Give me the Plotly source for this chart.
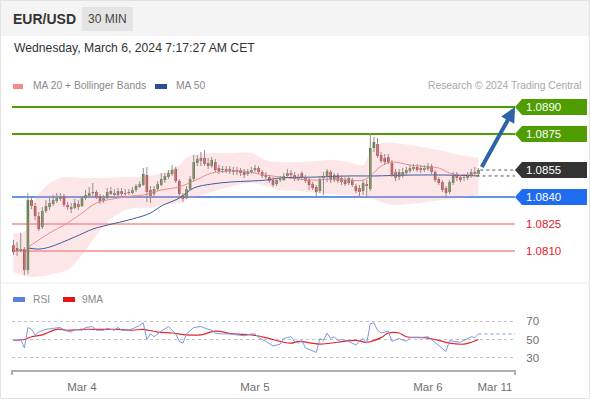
import plotly.graph_objects as go

W, H = 590, 400
FONT = "Liberation Sans, Arial, sans-serif"

# ---------------- data (EUR/USD, 30 min candles) ----------------
open_ = [1.08133, 1.08117, 1.08100, 1.08111, 1.07994, 1.08383, 1.08350, 1.08294, 1.08233, 1.08322,
         1.08344, 1.08361, 1.08378, 1.08389, 1.08406, 1.08356, 1.08344, 1.08339, 1.08361, 1.08350,
         1.08394, 1.08406, 1.08422, 1.08428, 1.08406, 1.08378, 1.08394, 1.08433, 1.08422, 1.08411,
         1.08433, 1.08422, 1.08428, 1.08422, 1.08439, 1.08456, 1.08467, 1.08522, 1.08439, 1.08417,
         1.08444, 1.08467, 1.08494, 1.08511, 1.08528, 1.08556, 1.08489, 1.08411, 1.08394, 1.08444,
         1.08500, 1.08589, 1.08600, 1.08617, 1.08589, 1.08572, 1.08594, 1.08561, 1.08550, 1.08556,
         1.08544, 1.08550, 1.08539, 1.08550, 1.08539, 1.08528, 1.08539, 1.08550, 1.08561, 1.08539,
         1.08522, 1.08511, 1.08494, 1.08472, 1.08494, 1.08494, 1.08517, 1.08533, 1.08522, 1.08500,
         1.08533, 1.08506, 1.08494, 1.08472, 1.08456, 1.08433, 1.08506, 1.08517, 1.08539, 1.08494,
         1.08522, 1.08506, 1.08494, 1.08478, 1.08494, 1.08461, 1.08450, 1.08433, 1.08472, 1.08444,
         1.08672, 1.08694, 1.08633, 1.08617, 1.08622, 1.08589, 1.08539, 1.08511, 1.08517, 1.08533,
         1.08544, 1.08556, 1.08567, 1.08561, 1.08550, 1.08556, 1.08572, 1.08539, 1.08500, 1.08483,
         1.08450, 1.08428, 1.08478, 1.08528, 1.08511, 1.08506, 1.08506, 1.08517, 1.08539, 1.08528]
high = [1.08161, 1.08150, 1.08200, 1.08122, 1.08422, 1.08406, 1.08367, 1.08317, 1.08344, 1.08383,
        1.08394, 1.08411, 1.08422, 1.08422, 1.08417, 1.08372, 1.08367, 1.08389, 1.08383, 1.08406,
        1.08439, 1.08456, 1.08478, 1.08439, 1.08417, 1.08411, 1.08450, 1.08456, 1.08444, 1.08450,
        1.08450, 1.08444, 1.08444, 1.08456, 1.08472, 1.08489, 1.08561, 1.08567, 1.08461, 1.08461,
        1.08489, 1.08533, 1.08533, 1.08550, 1.08578, 1.08567, 1.08500, 1.08422, 1.08461, 1.08517,
        1.08633, 1.08633, 1.08650, 1.08661, 1.08617, 1.08622, 1.08611, 1.08578, 1.08572, 1.08572,
        1.08572, 1.08567, 1.08567, 1.08561, 1.08556, 1.08556, 1.08567, 1.08578, 1.08572, 1.08550,
        1.08539, 1.08522, 1.08511, 1.08506, 1.08517, 1.08533, 1.08556, 1.08550, 1.08539, 1.08528,
        1.08544, 1.08522, 1.08506, 1.08483, 1.08467, 1.08517, 1.08539, 1.08556, 1.08550, 1.08533,
        1.08533, 1.08522, 1.08511, 1.08517, 1.08506, 1.08472, 1.08467, 1.08494, 1.08494, 1.08756,
        1.08733, 1.08728, 1.08650, 1.08639, 1.08639, 1.08606, 1.08556, 1.08556, 1.08561, 1.08567,
        1.08578, 1.08583, 1.08583, 1.08578, 1.08578, 1.08589, 1.08583, 1.08550, 1.08511, 1.08494,
        1.08461, 1.08494, 1.08539, 1.08539, 1.08522, 1.08528, 1.08539, 1.08556, 1.08567, 1.08561]
low = [1.08078, 1.08072, 1.08094, 1.07967, 1.07972, 1.08333, 1.08272, 1.08211, 1.08222, 1.08311,
       1.08328, 1.08350, 1.08367, 1.08378, 1.08344, 1.08328, 1.08311, 1.08333, 1.08328, 1.08344,
       1.08383, 1.08394, 1.08406, 1.08389, 1.08361, 1.08367, 1.08389, 1.08411, 1.08406, 1.08406,
       1.08406, 1.08406, 1.08411, 1.08417, 1.08428, 1.08450, 1.08461, 1.08372, 1.08367, 1.08406,
       1.08433, 1.08461, 1.08478, 1.08500, 1.08517, 1.08478, 1.08406, 1.08372, 1.08389, 1.08433,
       1.08489, 1.08572, 1.08572, 1.08572, 1.08556, 1.08561, 1.08539, 1.08528, 1.08533, 1.08533,
       1.08528, 1.08522, 1.08522, 1.08517, 1.08506, 1.08517, 1.08528, 1.08539, 1.08528, 1.08506,
       1.08500, 1.08478, 1.08456, 1.08461, 1.08483, 1.08489, 1.08506, 1.08511, 1.08489, 1.08489,
       1.08494, 1.08478, 1.08439, 1.08439, 1.08400, 1.08422, 1.08411, 1.08483, 1.08478, 1.08483,
       1.08478, 1.08467, 1.08461, 1.08467, 1.08456, 1.08422, 1.08400, 1.08411, 1.08394, 1.08433,
       1.08650, 1.08617, 1.08589, 1.08578, 1.08583, 1.08511, 1.08489, 1.08494, 1.08506, 1.08517,
       1.08533, 1.08544, 1.08539, 1.08533, 1.08539, 1.08544, 1.08528, 1.08483, 1.08467, 1.08428,
       1.08400, 1.08417, 1.08467, 1.08489, 1.08483, 1.08489, 1.08494, 1.08506, 1.08517, 1.08517]
close = [1.08094, 1.08100, 1.08111, 1.07994, 1.08383, 1.08350, 1.08294, 1.08222, 1.08322, 1.08350,
         1.08367, 1.08383, 1.08394, 1.08400, 1.08356, 1.08344, 1.08333, 1.08367, 1.08344, 1.08394,
         1.08411, 1.08422, 1.08428, 1.08400, 1.08378, 1.08394, 1.08428, 1.08417, 1.08411, 1.08433,
         1.08417, 1.08417, 1.08422, 1.08439, 1.08461, 1.08472, 1.08528, 1.08428, 1.08406, 1.08444,
         1.08472, 1.08500, 1.08517, 1.08533, 1.08550, 1.08489, 1.08417, 1.08389, 1.08444, 1.08500,
         1.08594, 1.08611, 1.08617, 1.08583, 1.08572, 1.08606, 1.08550, 1.08544, 1.08556, 1.08544,
         1.08556, 1.08539, 1.08550, 1.08533, 1.08522, 1.08539, 1.08550, 1.08561, 1.08539, 1.08517,
         1.08511, 1.08489, 1.08467, 1.08494, 1.08500, 1.08517, 1.08533, 1.08522, 1.08500, 1.08511,
         1.08506, 1.08489, 1.08467, 1.08450, 1.08428, 1.08500, 1.08517, 1.08544, 1.08494, 1.08522,
         1.08489, 1.08483, 1.08472, 1.08506, 1.08467, 1.08433, 1.08428, 1.08478, 1.08461, 1.08672,
         1.08706, 1.08628, 1.08600, 1.08594, 1.08594, 1.08522, 1.08506, 1.08539, 1.08539, 1.08550,
         1.08561, 1.08567, 1.08550, 1.08550, 1.08561, 1.08572, 1.08539, 1.08494, 1.08478, 1.08439,
         1.08422, 1.08483, 1.08522, 1.08506, 1.08494, 1.08511, 1.08522, 1.08539, 1.08528, 1.08550]

ma20_idx = [4, 7, 10, 15, 19, 23, 29, 33, 36, 41, 46, 50, 55, 60, 64, 67, 70, 74, 79, 84, 88, 93, 97,
            99, 102, 105, 110, 115, 118, 121, 124, 127, 129]
ma20 = [1.08122, 1.08161, 1.08200, 1.08256, 1.08311, 1.08367, 1.08394, 1.08406, 1.08411, 1.08439,
        1.08456, 1.08489, 1.08533, 1.08544, 1.08544, 1.08533, 1.08522, 1.08511, 1.08500, 1.08494,
        1.08500, 1.08494, 1.08494, 1.08517, 1.08572, 1.08594, 1.08578, 1.08567, 1.08561, 1.08533,
        1.08522, 1.08528, 1.08533]
ma50_idx = [4, 7, 10, 17, 22, 26, 33, 38, 41, 46, 50, 55, 60, 66, 70, 74, 84, 93, 100, 110, 120, 129]
ma50 = [1.08117, 1.08111, 1.08122, 1.08178, 1.08222, 1.08244, 1.08278, 1.08311, 1.08350, 1.08394,
        1.08450, 1.08472, 1.08483, 1.08489, 1.08494, 1.08506, 1.08511, 1.08517, 1.08517, 1.08522,
        1.08522, 1.08517]
bb_idx = [0, 3, 5, 8, 11, 15, 19, 22, 26, 30, 33, 38, 41, 46, 48, 50, 55, 60, 66, 70, 74, 79, 84,
          88, 93, 97, 99, 102, 105, 110, 115, 119, 124, 129]
bb_upper = [1.08200, 1.08206, 1.08356, 1.08439, 1.08489, 1.08511, 1.08506, 1.08506, 1.08506, 1.08511,
            1.08511, 1.08517, 1.08533, 1.08578, 1.08617, 1.08633, 1.08644, 1.08644, 1.08644, 1.08606,
            1.08594, 1.08594, 1.08600, 1.08606, 1.08594, 1.08578, 1.08650, 1.08700, 1.08700, 1.08689,
            1.08672, 1.08656, 1.08633, 1.08617]
bb_lower = [1.07983, 1.07961, 1.07956, 1.07961, 1.07972, 1.07994, 1.08078, 1.08161, 1.08261, 1.08317,
            1.08339, 1.08339, 1.08356, 1.08367, 1.08383, 1.08394, 1.08428, 1.08456, 1.08478, 1.08461,
            1.08439, 1.08433, 1.08422, 1.08417, 1.08411, 1.08400, 1.08394, 1.08372, 1.08356, 1.08361,
            1.08372, 1.08383, 1.08394, 1.08411]

rsi_idx = [0, 2, 3, 4, 5, 6, 7, 9, 11, 13, 14, 16, 17, 19, 20, 22, 23, 25, 26, 28, 29, 30, 32, 34,
           35, 36, 37, 38, 39, 41, 42, 43, 45, 46, 47, 48, 50, 52, 54, 55, 56, 58, 60, 62, 64, 66,
           67, 68, 70, 72, 74, 75, 77, 78, 79, 80, 81, 84, 85, 86, 87, 88, 89, 90, 91, 93, 95, 96,
           97, 98, 99, 100, 101, 102, 104, 105, 107, 109, 110, 112, 113, 115, 116, 117, 118, 120,
           121, 122, 124, 125, 127, 128, 129]
rsi = [49, 50, 41, 63, 61, 55, 58, 61, 62, 63, 60, 58, 61, 60, 63, 64, 60, 60, 62, 60, 63, 60, 60, 63,
       65, 68, 50, 56, 53, 59, 62, 64, 56, 48, 46, 56, 63, 64, 61, 60, 57, 56, 56, 55, 54, 56,
       56, 52, 48, 43, 45, 51, 53, 48, 46, 49, 41, 36, 51, 49, 57, 51, 53, 49, 50, 48, 44, 48,
       51, 46, 67, 68, 60, 57, 59, 48, 51, 48, 52, 52, 52, 53, 50, 46, 44, 37,
       49, 48, 47, 49, 53, 52, 56]
rsi_ma_idx = [0, 3, 5, 8, 12, 15, 19, 24, 29, 33, 36, 40, 44, 48, 52, 56, 61, 66, 70, 74, 77, 79, 85,
              90, 95, 98, 102, 104, 107, 109, 114, 118, 121, 125, 127, 129]
rsi_ma = [49, 50, 53, 55, 61, 60, 61, 61, 61, 60, 61, 58, 57, 55, 55, 59, 56, 55, 52, 48, 46, 48, 45,
          47, 49, 47, 52, 57, 57, 53, 52, 49, 46, 45, 47, 50]

tick_pos = [19, 67, 115, 133.6]
tick_text = ["Mar 4", "Mar 5", "Mar 6", "Mar 11"]
rsi_ticks = [30, 50, 70]

target_levels = [1.0890, 1.0875]
current_level = 1.0855
support_levels = [1.0840]
lower_levels = [1.0825, 1.0810]

# ---------------- geometry helpers (layout only) ----------------
def px(x):
    return x / W

def py(y):
    return 1 - y / H

XMIN, XMAX = -0.42, 139.15
PRICE_RANGE = [1.07928, 1.08950]
RSI_RANGE = [17.0, 87.3]

GREEN = "#4f9d00"
BLUE_LVL = "#1f6cf0"
RED_TXT = "#e3202a"

n = len(close)
idx = list(range(n))

fig = go.Figure()

# Bollinger band
fig.add_trace(go.Scatter(x=bb_idx, y=bb_lower, mode="lines", line=dict(width=0, shape="spline"),
                         hoverinfo="skip", xaxis="x", yaxis="y"))
fig.add_trace(go.Scatter(x=bb_idx, y=bb_upper, mode="lines", line=dict(width=0, shape="spline"),
                         fill="tonexty", fillcolor="rgba(246,160,168,0.26)",
                         hoverinfo="skip", xaxis="x", yaxis="y"))
# moving averages
fig.add_trace(go.Scatter(x=ma20_idx, y=ma20, mode="lines",
                         line=dict(color="#f08a8a", width=1, shape="spline"),
                         hoverinfo="skip", xaxis="x", yaxis="y"))
fig.add_trace(go.Scatter(x=ma50_idx, y=ma50, mode="lines",
                         line=dict(color="#3d5c9c", width=1, shape="spline"),
                         hoverinfo="skip", xaxis="x", yaxis="y"))

# candle wicks
wx, wy = [], []
for i in idx:
    wx += [i, i, None]
    wy += [low[i], high[i], None]
fig.add_trace(go.Scatter(x=wx, y=wy, mode="lines", line=dict(color="#8f8f8f", width=1),
                         hoverinfo="skip", xaxis="x", yaxis="y"))
# candle bodies
bases, heights, colors = [], [], []
for o, c in zip(open_, close):
    bases.append(min(o, c))
    heights.append(max(abs(c - o), 0.00004))
    colors.append("#3f7a26" if c >= o else "#c4282b")
fig.add_trace(go.Bar(x=idx, y=heights, base=bases, width=0.72,
                     marker=dict(color=colors, line=dict(width=0)),
                     hoverinfo="skip", xaxis="x", yaxis="y"))

# dotted projections from last candle
fig.add_trace(go.Scatter(x=[n - 0.5, XMAX], y=[close[-1], close[-1]], mode="lines",
                         line=dict(color="#555555", width=1, dash="dot"),
                         hoverinfo="skip", xaxis="x", yaxis="y"))
fig.add_trace(go.Scatter(x=[n - 1.5, XMAX], y=[ma50[-1], ma50[-1]], mode="lines",
                         line=dict(color="#555555", width=1, dash="dot"),
                         hoverinfo="skip", xaxis="x", yaxis="y"))

# RSI panel
fig.add_trace(go.Scatter(x=rsi_ma_idx, y=rsi_ma, mode="lines",
                         line=dict(color="#e3262c", width=1.2, shape="spline"),
                         hoverinfo="skip", xaxis="x2", yaxis="y2"))
fig.add_trace(go.Scatter(x=rsi_idx, y=rsi, mode="lines",
                         line=dict(color="#7c98de", width=1),
                         hoverinfo="skip", xaxis="x2", yaxis="y2"))
fig.add_trace(go.Scatter(x=[rsi_idx[-1], XMAX], y=[rsi[-1], rsi[-1]], mode="lines",
                         line=dict(color="#7c98de", width=1, dash="dot"),
                         hoverinfo="skip", xaxis="x2", yaxis="y2"))

shapes = []
# card background / header
shapes.append(dict(type="rect", xref="paper", yref="paper", x0=0, x1=1, y0=py(36), y1=1,
                   fillcolor="#f4f4f4", line=dict(width=0), layer="below"))
shapes.append(dict(type="rect", xref="paper", yref="paper", x0=px(82), x1=px(133), y0=py(31), y1=py(7),
                   fillcolor="#e4e4e4", line=dict(width=0), layer="below"))
shapes.append(dict(type="rect", xref="paper", yref="paper", x0=px(0.5), x1=px(589.5), y0=py(398.5), y1=py(0.5),
                   fillcolor="rgba(0,0,0,0)", line=dict(color="#e2e2e2", width=1), layer="below"))
shapes.append(dict(type="line", xref="paper", yref="paper", x0=0, x1=1, y0=py(283), y1=py(283),
                   line=dict(color="#eeeeee", width=1), layer="below"))

# level lines
for lv in target_levels:
    shapes.append(dict(type="line", xref="x domain", yref="y", x0=0, x1=1, y0=lv, y1=lv,
                       line=dict(color=GREEN, width=2), layer="below"))
for lv in support_levels:
    shapes.append(dict(type="line", xref="x domain", yref="y", x0=0, x1=1, y0=lv, y1=lv,
                       line=dict(color="#3570dc", width=1.6), layer="below"))
for lv in lower_levels:
    shapes.append(dict(type="line", xref="x domain", yref="y", x0=0, x1=1, y0=lv, y1=lv,
                       line=dict(color="#f6a9a9", width=2), layer="below"))

# label tags (pentagon with left notch)
tag_path = "M0,0 L7,8 L72,8 L72,-8 L7,-8 Z"
for lv, col in [(target_levels[0], GREEN), (target_levels[1], GREEN),
                (current_level, "#333333"), (support_levels[0], BLUE_LVL)]:
    shapes.append(dict(type="path", xref="paper", yref="y", xsizemode="pixel", ysizemode="pixel",
                       xanchor=px(515), yanchor=lv, path=tag_path,
                       fillcolor=col, line=dict(width=0)))

# legend swatches
for x0, x1, y0, y1, col in [(13, 23, 84, 89, "#f28b8b"), (155, 167, 84, 89, "#2d4f8f"),
                            (13, 25, 297, 302, "#5b80da"), (63, 75, 297, 302, "#e3141c")]:
    shapes.append(dict(type="rect", xref="paper", yref="paper", x0=px(x0), x1=px(x1),
                       y0=py(y1), y1=py(y0), fillcolor=col, line=dict(width=0)))

# x axis end ticks
for xe in (12, 515):
    shapes.append(dict(type="line", xref="paper", yref="paper", x0=px(xe), x1=px(xe),
                       y0=py(375), y1=py(370), line=dict(color="#b0b0b0", width=2)))

annotations = []
def text(x, y, s, size, color, anchor="left", bold=False):
    annotations.append(dict(xref="paper", yref="paper", x=px(x), y=py(y), text=("<b>%s</b>" % s) if bold else s,
                            showarrow=False, xanchor=anchor, yanchor="middle",
                            font=dict(family=FONT, size=size, color=color)))

text(11, 19, "EUR/USD", 14, "#333333", bold=True)
text(107.5, 19, "30 MIN", 12, "#444444", anchor="center")
text(12, 48, "Wednesday, March 6, 2024 7:17:27 AM CET", 12.2, "#333333")
text(31, 86, "MA 20 + Bollinger Bands", 10.3, "#8a8a8a")
text(174, 86, "MA 50", 10.3, "#8a8a8a")
text(584, 86, "Research © 2024 Trading Central", 10.3, "#a8a8a8", anchor="right")
text(31, 299, "RSI", 10.3, "#8a8a8a")
text(80, 299, "9MA", 10.3, "#8a8a8a")

for lv in target_levels + [current_level] + support_levels:
    annotations.append(dict(xref="paper", yref="y", x=px(524), y=lv, text="%.4f" % lv, showarrow=False,
                            xanchor="left", yanchor="middle",
                            font=dict(family=FONT, size=11.5, color="#ffffff")))
for lv in lower_levels:
    annotations.append(dict(xref="paper", yref="y", x=px(524), y=lv, text="%.4f" % lv, showarrow=False,
                            xanchor="left", yanchor="middle",
                            font=dict(family=FONT, size=11.5, color=RED_TXT)))

# forecast arrow from last close to first target
annotations.append(dict(xref="x", yref="y", axref="x", ayref="y",
                        x=XMAX, y=target_levels[0], ax=n - 0.3, ay=close[-1] + 0.00008,
                        text="", showarrow=True, arrowhead=2, arrowsize=0.75, arrowwidth=4,
                        arrowcolor="#2f63a8", standoff=0, startstandoff=0))

fig.update_layout(
    width=W, height=H,
    margin=dict(l=0, r=0, t=0, b=0),
    paper_bgcolor="#ffffff", plot_bgcolor="rgba(0,0,0,0)",
    showlegend=False, barmode="overlay",
    font=dict(family=FONT),
    xaxis=dict(domain=[px(12), px(515)], range=[XMIN, XMAX], anchor="y", matches="x2",
               showticklabels=False, showgrid=False, zeroline=False, showline=False, ticks=""),
    yaxis=dict(domain=[py(282), py(98)], range=PRICE_RANGE, anchor="x",
               showticklabels=False, showgrid=False, zeroline=False, showline=False, ticks=""),
    xaxis2=dict(domain=[px(12), px(515)], range=[XMIN, XMAX], anchor="y2",
                tickmode="array", tickvals=tick_pos, ticktext=tick_text,
                ticks="outside", ticklen=5, tickcolor="rgba(0,0,0,0)",
                tickfont=dict(family=FONT, size=11.5, color="#707070"),
                showgrid=False, zeroline=False, showline=True, linecolor="#b0b0b0", linewidth=2),
    yaxis2=dict(domain=[py(370), py(305)], range=RSI_RANGE, anchor="x2", side="right",
                tickmode="array", tickvals=rsi_ticks,
                ticks="outside", ticklen=8, tickcolor="rgba(0,0,0,0)",
                tickfont=dict(family=FONT, size=11.5, color="#707070"),
                showgrid=True, gridcolor="#c4c4c4", griddash="dot", gridwidth=1,
                zeroline=False, showline=False),
    shapes=shapes,
    annotations=annotations,
)

fig.write_html("out.html", config={"displayModeBar": False, "staticPlot": True},
               post_script="document.body.style.margin='0';document.body.style.overflow='hidden';")
